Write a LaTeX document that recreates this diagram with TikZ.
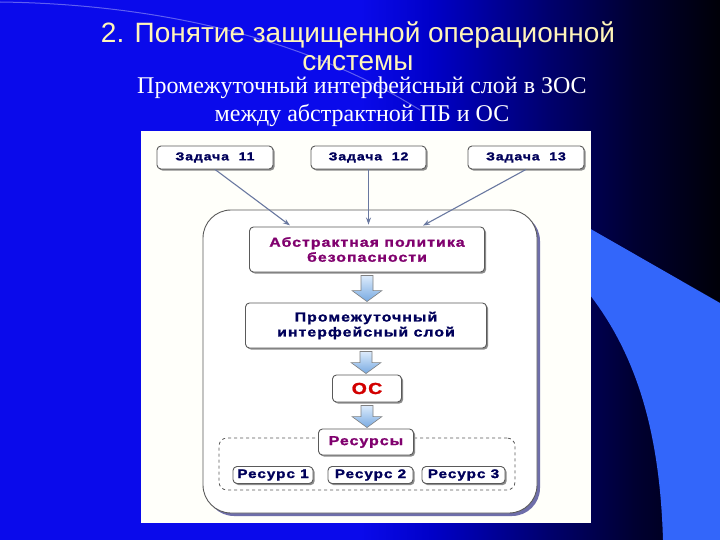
\documentclass[tikz,border=0pt]{standalone}
\usepackage{fontspec}
\setmainfont{Liberation Serif}
\newfontfamily\titlefont{Liberation Sans}
\newfontfamily\boxfont[LetterSpace=8, FakeStretch=1.22, FakeBold=1.5, UprightFont={* Bold}]{Liberation Sans}
\usetikzlibrary{shadows,calc,arrows.meta}
\definecolor{bgA}{RGB}{10,10,235}
\definecolor{bgB}{RGB}{0,0,200}
\definecolor{bgC}{RGB}{0,0,110}
\definecolor{bgD}{RGB}{0,0,50}
\definecolor{bgE}{RGB}{0,0,8}
\definecolor{swoosh}{RGB}{51,102,250}
\definecolor{titlecol}{RGB}{255,245,185}
\definecolor{panel}{RGB}{255,255,250}
\definecolor{boxline}{RGB}{90,90,90}
\definecolor{purpletext}{RGB}{128,0,110}
\definecolor{navytext}{RGB}{0,0,90}
\definecolor{ostext}{RGB}{210,0,0}
\definecolor{taskline}{RGB}{105,120,160}
\definecolor{contshadow}{RGB}{110,110,170}
\definecolor{arrtop}{RGB}{220,235,252}
\definecolor{arrbot}{RGB}{120,170,225}
\pgfdeclarehorizontalshading{slidebg}{100bp}{color(0bp)=(bgA); color(25bp)=(bgA); color(50bp)=(bgA); color(55bp)=(bgB); color(63bp)=(bgC); color(69bp)=(bgD); color(75bp)=(bgE); color(100bp)=(bgE)}
\tikzset{
  box/.style={draw=boxline, line width=0.9pt, fill=white, rounded corners=4pt,
    drop shadow={shadow xshift=1.6pt, shadow yshift=-1.6pt, fill=black!45, opacity=1},
    inner sep=1pt, align=center, font=\boxfont},
  taskarrow/.style={draw=taskline, line width=1.1pt, -{Stealth[length=7pt,width=5pt]}, shorten >=2pt},
  blockarrow/.style={draw=black!50, line width=0.6pt, top color=arrtop, bottom color=arrbot},
}
\newcommand\blockarr[2]{%
  \path let \p1=(#1.south), \p2=(#2.north) in
    [blockarrow] (\x1-6pt,\y1-3pt) -- (\x1+6pt,\y1-3pt) -- (\x1+6pt,\y2+12pt)
    -- (\x1+15pt,\y2+12pt) -- (\x1,\y2+1pt) -- (\x1-15pt,\y2+12pt)
    -- (\x1-6pt,\y2+12pt) -- cycle;}
\begin{document}
\begin{tikzpicture}[x=1pt,y=-1pt]
\useasboundingbox (0,0) rectangle (720,540);
% background
\shade[shading=slidebg] (0,0) rectangle (720,540);
\fill[swoosh] (540,200) -- (720,303) -- (720,540) -- (663,540)
  .. controls (660,440) and (640,360) .. (590,295) -- (540,245) -- cycle;
\draw[white, opacity=0.35, line width=1pt] (0,2) .. controls (150,4) and (300,35) .. (420,110);
% titles
\node[text=titlecol, font=\titlefont\fontsize{28}{28}\selectfont, align=center] (title) at (358,46)
  {2. Понятие защищенной операционной\\системы};
\node[text=white, font=\fontsize{24}{28}\selectfont, align=center] (sub) at (362,102)
  {Промежуточный интерфейсный слой в ЗОС\\между абстрактной ПБ и ОС};
% panel
\fill[panel] (141,131) rectangle (591,523);
% container
\node[draw=boxline, line width=0.9pt, fill=white, rounded corners=28pt,
  minimum width=334pt, minimum height=303pt,
  drop shadow={shadow xshift=3pt, shadow yshift=-3pt, fill=contshadow, opacity=1}] (cont) at (370,361.5) {};
% tasks
\node[box, minimum width=116pt, minimum height=23pt, text=navytext, font=\boxfont\fontsize{11.5}{12}\selectfont] (z11) at (215,157.5) {Задача\ \ 11};
\node[box, minimum width=115pt, minimum height=23pt, text=navytext, font=\boxfont\fontsize{11.5}{12}\selectfont] (z12) at (368.5,157.5) {Задача\ \ 12};
\node[box, minimum width=116pt, minimum height=23pt, text=navytext, font=\boxfont\fontsize{11.5}{12}\selectfont] (z13) at (526,157.5) {Задача\ \ 13};
% policy
\node[box, minimum width=235pt, minimum height=45pt, text=purpletext, font=\boxfont\fontsize{13}{15}\selectfont] (abs) at (367,249.5) {Абстрактная политика\\безопасности};
\node[box, minimum width=241pt, minimum height=45pt, text=navytext, font=\boxfont\fontsize{13}{15}\selectfont] (mid) at (366,325.5) {Промежуточный\\интерфейсный слой};
\node[box, minimum width=69pt, minimum height=27pt, text=ostext, font=\boxfont\fontsize{16}{18}\selectfont] (os) at (367,388.5) {ОС};
% resources
\node[draw=boxline, dashed, line width=0.8pt, rounded corners=8pt, minimum width=296pt, minimum height=52pt] (dash) at (367,464) {};
\node[box, minimum width=95pt, minimum height=26pt, text=purpletext, font=\boxfont\fontsize{13}{14}\selectfont] (res) at (366,442) {Ресурсы};
\node[box, minimum width=80pt, minimum height=17pt, text=navytext, font=\boxfont\fontsize{12.5}{13}\selectfont] (r1) at (273,475) {Ресурс 1};
\node[box, minimum width=85pt, minimum height=17pt, text=navytext, font=\boxfont\fontsize{12.5}{13}\selectfont] (r2) at (370.5,475) {Ресурс 2};
\node[box, minimum width=83pt, minimum height=17pt, text=navytext, font=\boxfont\fontsize{12.5}{13}\selectfont] (r3) at (463.5,475) {Ресурс 3};
% connectors
\draw[taskarrow] (z11.south) -- ($(abs.north west)!0.18!(abs.north east)$);
\draw[taskarrow] (z12.south) -- (z12.south |- abs.north);
\draw[taskarrow] (z13.south) -- ($(abs.north west)!0.73!(abs.north east)$);
\blockarr{abs}{mid}
\blockarr{mid}{os}
\blockarr{os}{res}
\end{tikzpicture}
\end{document}
